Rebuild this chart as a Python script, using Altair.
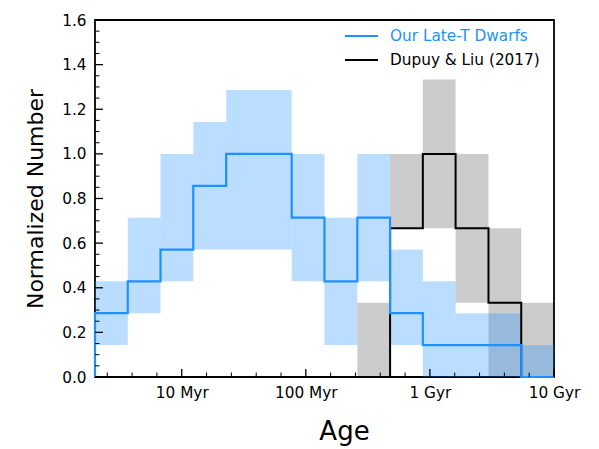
import altair as alt
import pandas as pd

# ---- data ----
log_age_edges = [6.301, 6.565, 6.829, 7.093, 7.358, 7.622, 7.886, 8.150,
                 8.415, 8.679, 8.943, 9.207, 9.472, 9.736, 10.0]
late_t_value = [0.286, 0.429, 0.571, 0.857, 1.0, 1.0, 0.714, 0.429,
                0.714, 0.286, 0.143, 0.143, 0.143, 0.0]
late_t_low = [0.143, 0.286, 0.429, 0.571, 0.571, 0.571, 0.429, 0.143,
              0.429, 0.143, 0.0, 0.0, 0.0, 0.0]
late_t_high = [0.429, 0.714, 1.0, 1.143, 1.286, 1.286, 1.0, 0.714,
               1.0, 0.571, 0.429, 0.286, 0.286, 0.143]
dupuy_value = [0.0, 0.0, 0.0, 0.0, 0.0, 0.0, 0.0, 0.0,
               0.0, 0.667, 1.0, 0.667, 0.333, 0.0]
dupuy_low = [0.0, 0.0, 0.0, 0.0, 0.0, 0.0, 0.0, 0.0,
             0.0, 0.667, 0.667, 0.333, 0.0, 0.0]
dupuy_high = [0.0, 0.0, 0.0, 0.0, 0.0, 0.0, 0.0, 0.0,
              0.333, 1.0, 1.333, 1.0, 0.667, 0.333]

x_major_log = [7, 8, 9, 10]
x_major_labels = ["10 Myr", "100 Myr", "1 Gyr", "10 Gyr"]
x_minor_log = [6.4, 6.6, 6.8, 7.2, 7.4, 7.6, 7.8, 8.2, 8.4, 8.6, 8.8,
               9.2, 9.4, 9.6, 9.8]
y_major = [0.0, 0.2, 0.4, 0.6, 0.8, 1.0, 1.2, 1.4, 1.6]
y_minor = [0.05, 0.1, 0.15, 0.25, 0.3, 0.35, 0.45, 0.5, 0.55, 0.65, 0.7,
           0.75, 0.85, 0.9, 0.95, 1.05, 1.1, 1.15, 1.25, 1.3, 1.35, 1.45,
           1.5, 1.55]
legend_labels = ["Our Late-T Dwarfs", "Dupuy & Liu (2017)"]
legend_colors = ["#1E90FF", "black"]

# ---- build tables ----
edges = [10 ** e for e in log_age_edges]
W, H = 459, 357
FONT = "DejaVu Sans"

def band_df(lo, hi):
    return pd.DataFrame({
        "x": edges[:-1], "x2": edges[1:], "lo": lo, "hi": hi,
    }).query("hi > lo")

def step_df(vals):
    xs = [edges[0]] + edges[:-1] + [edges[-1], edges[-1]]
    ys = [0.0] + list(vals) + [vals[-1], 0.0]
    return pd.DataFrame({"x": xs, "y": ys, "o": list(range(len(xs)))})

xscale = alt.Scale(type="log", domain=[edges[0], edges[-1]], nice=False)
yscale = alt.Scale(domain=[0, 1.6], nice=False)

label_expr = ("datum.value >= 9e9 ? '10 Gyr' : datum.value >= 9e8 ? '1 Gyr' : "
              "datum.value >= 9e7 ? '100 Myr' : '10 Myr'")

x_axis = alt.Axis(values=[10 ** v for v in x_major_log], labelExpr=label_expr,
                  ticks=False, domain=False, grid=False, labelFlush=False,
                  labelOverlap=False, labelFontSize=15.3, labelFont=FONT,
                  labelColor="black", labelPadding=8, title="Age",
                  titleFont=FONT, titleFontSize=26, titleFontWeight="normal",
                  titleColor="black", titlePadding=18, titleX=249,
                  titleAlign="center")
y_axis = alt.Axis(values=y_major, format=".1f", ticks=False, domain=False,
                  grid=False, labelFontSize=15.3, labelFont=FONT,
                  labelColor="black", labelPadding=9, labelFlush=False,
                  labelOverlap=False, title="Normalized Number",
                  titleFont=FONT, titleFontSize=22, titleFontWeight="normal",
                  titleColor="black", titlePadding=14)

grey_band = alt.Chart(band_df(dupuy_low, dupuy_high)).mark_rect(
    color="black", opacity=0.2).encode(
    x=alt.X("x:Q", scale=xscale, axis=x_axis), x2="x2:Q",
    y=alt.Y("lo:Q", scale=yscale, axis=y_axis), y2="hi:Q")

blue_band = alt.Chart(band_df(late_t_low, late_t_high)).mark_rect(
    color="#1E90FF", opacity=0.3).encode(
    x=alt.X("x:Q", scale=xscale), x2="x2:Q",
    y=alt.Y("lo:Q", scale=yscale), y2="hi:Q")

black_line = alt.Chart(step_df(dupuy_value)).mark_line(
    color="black", strokeWidth=2, interpolate="step-after").encode(
    x=alt.X("x:Q", scale=xscale), y=alt.Y("y:Q", scale=yscale), order="o:Q")

blue_line = alt.Chart(step_df(late_t_value)).mark_line(
    color="#1E90FF", strokeWidth=2.2, interpolate="step-after").encode(
    x=alt.X("x:Q", scale=xscale), y=alt.Y("y:Q", scale=yscale), order="o:Q")

y_major_ticks = alt.Chart(pd.DataFrame({"v": y_major})).mark_rule(
    color="black", strokeWidth=1.3).encode(
    y=alt.Y("v:Q", scale=yscale), x=alt.value(0), x2=alt.value(8))
y_minor_ticks = alt.Chart(pd.DataFrame({"v": y_minor})).mark_rule(
    color="black", strokeWidth=1).encode(
    y=alt.Y("v:Q", scale=yscale), x=alt.value(0), x2=alt.value(4.5))
x_major_ticks = alt.Chart(pd.DataFrame({"v": [10 ** v for v in x_major_log]})).mark_rule(
    color="black", strokeWidth=1.3).encode(
    x=alt.X("v:Q", scale=xscale), y=alt.value(H), y2=alt.value(H - 8))
x_minor_ticks = alt.Chart(pd.DataFrame({"v": [10 ** v for v in x_minor_log]})).mark_rule(
    color="black", strokeWidth=1).encode(
    x=alt.X("v:Q", scale=xscale), y=alt.value(H), y2=alt.value(H - 4.5))

leg = pd.DataFrame({"label": legend_labels, "color": legend_colors,
                    "ypix": [16, 40]})
legend_lines = alt.Chart(leg).mark_rule(strokeWidth=2).encode(
    x=alt.value(250), x2=alt.value(283),
    y=alt.Y("ypix:Q", scale=None),
    color=alt.Color("color:N", scale=None))
legend_text = alt.Chart(leg).mark_text(
    align="left", baseline="middle", font=FONT, fontSize=15.3).encode(
    x=alt.value(295), y=alt.Y("ypix:Q", scale=None),
    text="label:N", color=alt.Color("color:N", scale=None))

chart = alt.layer(
    grey_band, blue_band, black_line, blue_line,
    y_minor_ticks, y_major_ticks, x_minor_ticks, x_major_ticks,
    legend_lines, legend_text,
).properties(
    width=W, height=H,
    autosize=alt.AutoSizeParams(type="none"),
    padding={"left": 95, "top": 20, "right": 45, "bottom": 72},
    background="white",
).configure_view(stroke="black", strokeWidth=1.8)

chart.save("out.html", embed_options={"renderer": "svg", "actions": False})
